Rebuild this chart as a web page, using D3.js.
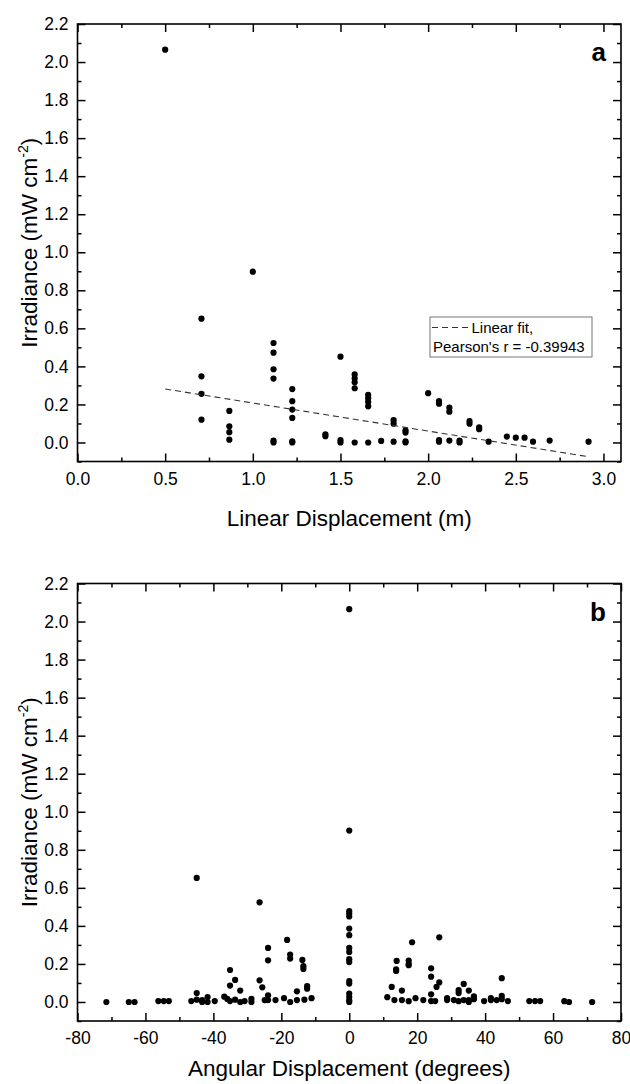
<!DOCTYPE html>
<html>
<head>
<meta charset="utf-8">
<script src="https://cdn.jsdelivr.net/npm/d3@7/dist/d3.min.js"></script>
<style>
  body { margin: 0; background: #fff; }
  svg { display: block; font-family: "Liberation Sans", Arial, sans-serif; }
</style>
</head>
<body>
<svg width="630" height="1084"></svg>
<script>
// panel a: linear displacement (m) vs irradiance
const linearX = [
  0.5,
  0.707, 0.707, 0.707, 0.707,
  0.866, 0.866, 0.866, 0.866,
  1.0,
  1.118, 1.118, 1.118, 1.118, 1.118, 1.118,
  1.225, 1.225, 1.225, 1.225, 1.225, 1.225,
  1.414, 1.414,
  1.5, 1.5, 1.5,
  1.581, 1.581, 1.581, 1.581, 1.581,
  1.658, 1.658, 1.658, 1.658, 1.658,
  1.732,
  1.803, 1.803, 1.803,
  1.871, 1.871, 1.871, 1.871,
  2.0,
  2.062, 2.062, 2.062, 2.062,
  2.121, 2.121, 2.121,
  2.179, 2.179,
  2.236, 2.236,
  2.291, 2.291,
  2.345,
  2.449, 2.5, 2.55, 2.598, 2.693, 2.915
];
const linearY = [
  2.065,
  0.651, 0.348, 0.256, 0.12,
  0.166, 0.085, 0.054, 0.015,
  0.898,
  0.523, 0.472, 0.385, 0.336, 0.01, 0.0,
  0.281, 0.217, 0.173, 0.129, 0.006, 0.0,
  0.043, 0.033,
  0.451, 0.012, 0.0,
  0.358, 0.337, 0.316, 0.285, 0.0,
  0.25, 0.232, 0.213, 0.19, 0.0,
  0.008,
  0.117, 0.099, 0.004,
  0.064, 0.052, 0.006, 0.0,
  0.259,
  0.218, 0.204, 0.012, 0.004,
  0.183, 0.162, 0.01,
  0.01, 0.0,
  0.113, 0.099,
  0.08, 0.07,
  0.004,
  0.031, 0.025, 0.025, 0.004, 0.01, 0.004
];
// linear fit shown in panel a
const fitIntercept = 0.355;
const fitSlope = -0.1475;
const fitLabel = ["Linear fit,", "Pearson's r = -0.39943"];

// panel b: angular displacement (degrees) vs irradiance
const angularX = [
  -71.5, -64.9, -63.2, -56.2, -54.6, -53.1, -46.5,
  -44.9, -44.9, -44.9, -43.3, -43.3, -41.7, -41.7, -39.6,
  -36.8, -35.9, -35.1, -35.1, -35.1, -33.6, -33.6, -32.1, -32.1, -30.8, -28.8, -28.8,
  -26.4, -26.4, -25.6, -24.9, -23.9, -23.9, -23.9, -23.9, -21.7, -19.2,
  -18.3, -17.4, -17.4, -17.4, -15.4, -15.4, -13.8, -13.5, -13.5, -13.2, -12.4, -12.4, -11.1,
  0, 0, 0, 0, 0, 0, 0, 0, 0, 0, 0, 0, 0, 0, 0, 0, 0,
  11.2, 12.5, 13.3, 13.8, 13.8, 13.95, 15.5, 15.5, 17.5, 17.5, 17.5, 17.5, 18.5, 19.5, 21.8,
  24.1, 24.1, 24.1, 24.1, 25.3, 25.7, 26.5, 26.5, 28.8, 28.8, 30.8,
  32.2, 32.2, 32.2, 33.7, 33.7, 35.2, 35.2, 35.2, 36.7, 36.7, 39.7, 41.7, 41.7, 43.4,
  44.9, 44.9, 44.9, 46.7, 53.0, 54.7, 56.2, 63.3, 64.7, 71.5
];
const angularY = [
  0.0, 0.0, 0.0, 0.005, 0.005, 0.005, 0.005,
  0.652, 0.047, 0.012, 0.01, 0.0, 0.026, 0.0, 0.005,
  0.028, 0.016, 0.168, 0.086, 0.005, 0.116, 0.012, 0.06, 0.0, 0.005, 0.016, 0.0,
  0.524, 0.114, 0.077, 0.01, 0.284, 0.219, 0.035, 0.01, 0.01, 0.02,
  0.326, 0.249, 0.228, 0.0, 0.056, 0.01, 0.221, 0.188, 0.174, 0.012, 0.083, 0.07, 0.02,
  2.065, 0.901, 0.478, 0.465, 0.45, 0.386, 0.351, 0.284, 0.263, 0.225, 0.21, 0.11, 0.097, 0.044, 0.026, 0.009, 0.0,
  0.025, 0.079, 0.01, 0.172, 0.163, 0.216, 0.06, 0.01, 0.218, 0.2, 0.193, 0.004, 0.314, 0.02, 0.01,
  0.177, 0.133, 0.04, 0.005, 0.005, 0.079, 0.103, 0.34, 0.02, 0.01, 0.01,
  0.062, 0.047, 0.004, 0.095, 0.01, 0.06, 0.01, 0.0, 0.03, 0.015, 0.005, 0.02, 0.01, 0.01,
  0.125, 0.032, 0.015, 0.005, 0.005, 0.005, 0.005, 0.004, 0.0, 0.0
];

// ticks
const yMajor = [0.0, 0.2, 0.4, 0.6, 0.8, 1.0, 1.2, 1.4, 1.6, 1.8, 2.0, 2.2];
const yMinor = [-0.1, 0.1, 0.3, 0.5, 0.7, 0.9, 1.1, 1.3, 1.5, 1.7, 1.9, 2.1];
const xMajorA = [0.0, 0.5, 1.0, 1.5, 2.0, 2.5, 3.0];
const xMinorA = [0.25, 0.75, 1.25, 1.75, 2.25, 2.75];
const xMajorB = [-80, -60, -40, -20, 0, 20, 40, 60, 80];
const xMinorB = [-70, -50, -30, -10, 10, 30, 50, 70];

const svg = d3.select('svg');

const drawPanel = ({ top, xDomain, xMajor, xMinor, xFmt, xs, ys, xTitle, titleGap, tag }) => {
    const left = 77.5, right = 621, height = 437.5;
    const bottom = top + height;
    const x = d3.scaleLinear().domain(xDomain).range([left, right]);
    const y = d3.scaleLinear().domain([-0.1, 2.2]).range([bottom, top]);
    const g = svg.append('g');

    const styleAxis = sel => {
        sel.select('.domain').remove();
        sel.selectAll('line').attr('stroke', '#000').attr('stroke-width', 1.5);
        sel.selectAll('text').attr('font-size', 17.5).attr('fill', '#000')
            .attr('font-family', '"Liberation Sans", Arial, sans-serif');
    };

    // major + minor ticks on all four sides, pointing inward
    g.append('g').attr('transform', `translate(0,${bottom})`)
        .call(d3.axisBottom(x).tickValues(xMajor).tickFormat(xFmt).tickSizeInner(-8).tickSizeOuter(0).tickPadding(11))
        .call(styleAxis);
    g.append('g').attr('transform', `translate(0,${bottom})`)
        .call(d3.axisBottom(x).tickValues(xMinor).tickFormat('').tickSizeInner(-4).tickSizeOuter(0))
        .call(styleAxis);
    g.append('g').attr('transform', `translate(0,${top})`)
        .call(d3.axisTop(x).tickValues(xMajor).tickFormat('').tickSizeInner(-8).tickSizeOuter(0))
        .call(styleAxis);
    g.append('g').attr('transform', `translate(0,${top})`)
        .call(d3.axisTop(x).tickValues(xMinor).tickFormat('').tickSizeInner(-4).tickSizeOuter(0))
        .call(styleAxis);
    g.append('g').attr('transform', `translate(${left},0)`)
        .call(d3.axisLeft(y).tickValues(yMajor).tickFormat(d => d.toFixed(1)).tickSizeInner(-8).tickSizeOuter(0).tickPadding(9))
        .call(styleAxis);
    g.append('g').attr('transform', `translate(${left},0)`)
        .call(d3.axisLeft(y).tickValues(yMinor).tickFormat('').tickSizeInner(-4).tickSizeOuter(0))
        .call(styleAxis);
    g.append('g').attr('transform', `translate(${right},0)`)
        .call(d3.axisRight(y).tickValues(yMajor).tickFormat('').tickSizeInner(-8).tickSizeOuter(0))
        .call(styleAxis);
    g.append('g').attr('transform', `translate(${right},0)`)
        .call(d3.axisRight(y).tickValues(yMinor).tickFormat('').tickSizeInner(-4).tickSizeOuter(0))
        .call(styleAxis);

    // frame
    g.append('rect')
        .attr('x', left).attr('y', top)
        .attr('width', right - left).attr('height', height)
        .attr('fill', 'none').attr('stroke', '#000').attr('stroke-width', 1.6);

    // points
    g.append('g')
        .selectAll('circle')
        .data(xs.map((d, i) => [d, ys[i]]))
        .join('circle')
            .attr('cx', d => x(d[0]))
            .attr('cy', d => y(d[1]))
            .attr('r', 3.1)
            .attr('fill', '#000');

    // titles
    g.append('text')
        .attr('x', (left + right) / 2).attr('y', bottom + titleGap)
        .attr('text-anchor', 'middle').attr('font-size', 22.5)
        .text(xTitle);

    const yt = g.append('text')
        .attr('transform', `translate(37,${(top + bottom) / 2}) rotate(-90)`)
        .attr('text-anchor', 'middle').attr('font-size', 22.5);
    yt.append('tspan').text('Irradiance (mW cm');
    yt.append('tspan').attr('font-size', 14).attr('dy', -9).text('-2');
    yt.append('tspan').attr('dy', 9).text(')');

    g.append('text')
        .attr('x', right - 15).attr('y', top + 37)
        .attr('text-anchor', 'end').attr('font-size', 26).attr('font-weight', 'bold')
        .text(tag);

    return { g, x, y };
};

// panel a
const pa = drawPanel({
    top: 24, xDomain: [0, 3.1], xMajor: xMajorA, xMinor: xMinorA,
    xFmt: d => d.toFixed(1), xs: linearX, ys: linearY,
    xTitle: 'Linear Displacement (m)', titleGap: 64, tag: 'a'
});

// fit line across the data range
const fitX = d3.extent(linearX);
pa.g.append('line')
    .attr('x1', pa.x(fitX[0])).attr('y1', pa.y(fitIntercept + fitSlope * fitX[0]))
    .attr('x2', pa.x(fitX[1])).attr('y2', pa.y(fitIntercept + fitSlope * fitX[1]))
    .attr('stroke', '#333').attr('stroke-width', 1.1)
    .attr('stroke-dasharray', '6,4');

// legend
const lg = pa.g.append('g').attr('transform', 'translate(430,317)');
lg.append('rect').attr('width', 162).attr('height', 40)
    .attr('fill', '#fff').attr('stroke', '#777').attr('stroke-width', 1);
lg.append('line').attr('x1', 2).attr('x2', 38).attr('y1', 10.5).attr('y2', 10.5)
    .attr('stroke', '#333').attr('stroke-width', 1.1).attr('stroke-dasharray', '6,4');
lg.append('text').attr('x', 41.5).attr('y', 16).attr('font-size', 15).text(fitLabel[0]);
lg.append('text').attr('x', 3).attr('y', 34.5).attr('font-size', 15).text(fitLabel[1]);

// panel b
drawPanel({
    top: 583.5, xDomain: [-80, 80], xMajor: xMajorB, xMinor: xMinorB,
    xFmt: d => String(d), xs: angularX, ys: angularY,
    xTitle: 'Angular Displacement (degrees)', titleGap: 55, tag: 'b'
});
</script>
</body>
</html>
